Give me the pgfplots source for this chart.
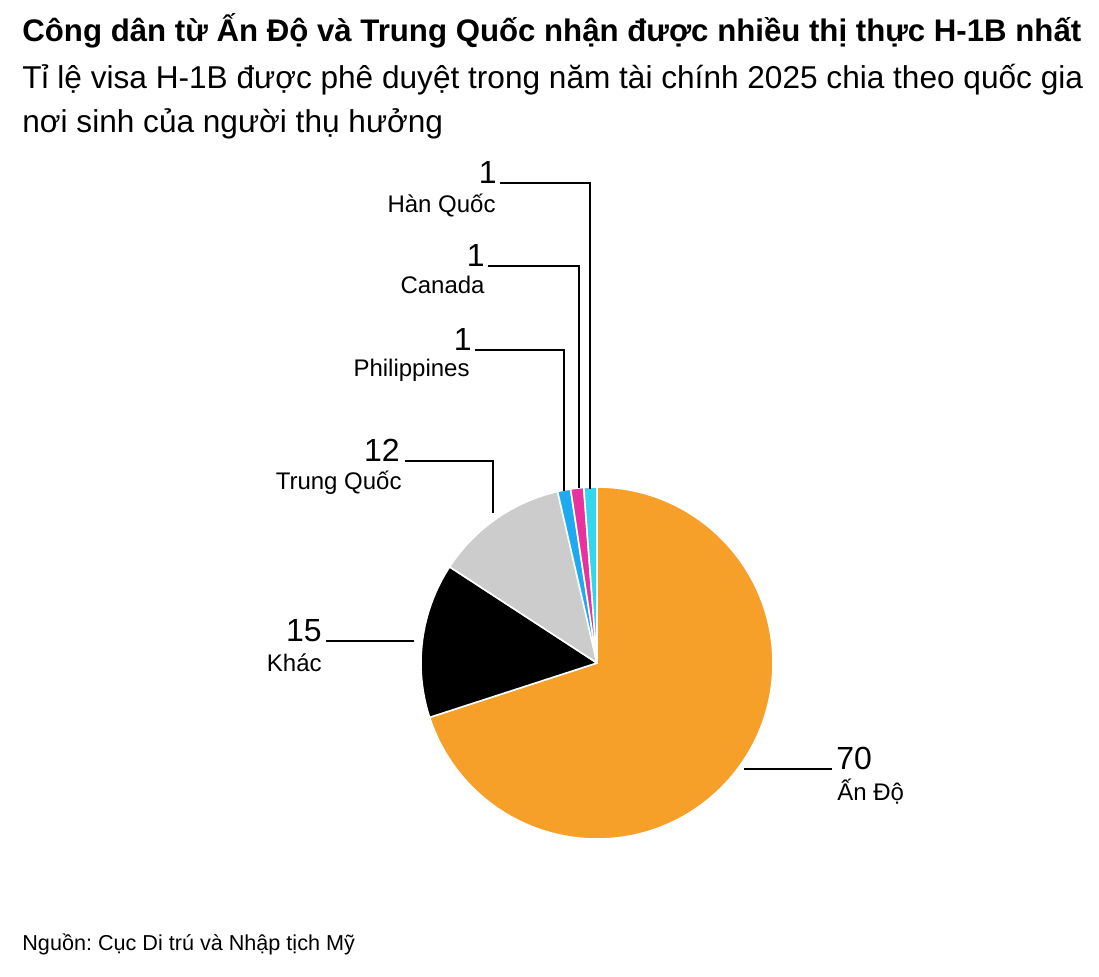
\documentclass[border=0pt]{standalone}
\usepackage{pgfplots}
\pgfplotsset{compat=1.18}
\usepackage{pgfplotstable}
\usepackage{fontspec}
\setmainfont{Liberation Sans}
\frenchspacing
\definecolor{cIndia}{HTML}{F7A029}
\definecolor{cOther}{HTML}{000000}
\definecolor{cChina}{HTML}{CCCCCC}
\definecolor{cPhil}{HTML}{1EAAF1}
\definecolor{cCanada}{HTML}{E8339E}
\definecolor{cKorea}{HTML}{33D6EA}
\pgfplotstableread{
name value shown color
India 70.0 70 cIndia
Other 14.2 15 cOther
China 12.2 12 cChina
Phil 1.2 1 cPhil
Canada 1.2 1 cCanada
Korea 1.2 1 cKorea
}\pietable
\begin{document}
\begin{tikzpicture}[x=0.5pt,y=-0.5pt]
\path (0,0) rectangle (1099,976);
\begin{axis}[at={(298.5pt,-331.5pt)}, anchor=center, width=176pt, height=176pt,
  scale only axis, xmin=-1, xmax=1, ymin=-1, ymax=1, hide axis, clip=false]
\addplot[draw=none] coordinates {(0,0)};
\def\cum{90}
\pgfplotsforeachungrouped \i in {0,...,5}{%
  \pgfplotstablegetelem{\i}{value}\of\pietable
  \pgfmathsetmacro\aa{\cum}%
  \pgfmathsetmacro\bb{\cum-3.6*\pgfplotsretval}%
  \pgfplotstablegetelem{\i}{color}\of\pietable
  \edef\cmd{\noexpand\fill[\pgfplotsretval, draw=white, line width=0.8pt, line join=round] (axis cs:0,0) -- (axis cs:{cos(\aa)},{sin(\aa)}) arc[start angle=\aa, end angle=\bb, radius=88pt] -- cycle;}%
  \cmd
  \global\let\cum\bb
}
\end{axis}
% leader lines
\draw[line width=1pt] (590,489) -- (590,183) -- (500,183);
\draw[line width=1pt] (579,488) -- (579,266) -- (488,266);
\draw[line width=1pt] (564,491) -- (564,350) -- (475,350);
\draw[line width=1pt] (493,513) -- (493,461) -- (405,461);
\draw[line width=1pt] (414,641) -- (326,641);
\draw[line width=1pt] (744,769) -- (832,769);
% values and labels
\tikzset{num/.style={inner sep=0pt, font=\fontsize{16}{19}\selectfont},
         lab/.style={inner sep=0pt, font=\fontsize{12}{14}\selectfont}}
\pgfplotstablegetelem{5}{shown}\of\pietable
\node[num, anchor=base east] at (497,183) {\pgfplotsretval};
\node[lab, anchor=base east] at (496,212) {Hàn Quốc};
\pgfplotstablegetelem{4}{shown}\of\pietable
\node[num, anchor=base east] at (485,266) {\pgfplotsretval};
\node[lab, anchor=base east] at (485,293) {Canada};
\pgfplotstablegetelem{3}{shown}\of\pietable
\node[num, anchor=base east] at (472,350) {\pgfplotsretval};
\node[lab, anchor=base east] at (470,376) {Philippines};
\pgfplotstablegetelem{2}{shown}\of\pietable
\node[num, anchor=base east] at (400,461) {\pgfplotsretval};
\node[lab, anchor=base east] at (402,489) {Trung Quốc};
\pgfplotstablegetelem{1}{shown}\of\pietable
\node[num, anchor=base east] at (322,641) {\pgfplotsretval};
\node[lab, anchor=base east] at (322,671) {Khác};
\pgfplotstablegetelem{0}{shown}\of\pietable
\node[num, anchor=base west] at (836,769) {\pgfplotsretval};
\node[lab, anchor=base west] at (837,800) {Ấn Độ};
% titles
\node[anchor=base west, inner sep=0pt, font=\fontsize{15.6}{18}\selectfont\bfseries] at (22,41) {Công dân từ Ấn Độ và Trung Quốc nhận được nhiều thị thực H-1B nhất};
\node[anchor=base west, inner sep=0pt, font=\fontsize{15.8}{18}\selectfont] at (22,88) {Tỉ lệ visa H-1B được phê duyệt trong năm tài chính 2025 chia theo quốc gia};
\node[anchor=base west, inner sep=0pt, font=\fontsize{15.8}{18}\selectfont] at (22,132) {nơi sinh của người thụ hưởng};
\node[anchor=base west, inner sep=0pt, font=\fontsize{10.8}{13}\selectfont] at (22,950) {Nguồn: Cục Di trú và Nhập tịch Mỹ};
\end{tikzpicture}
\end{document}
